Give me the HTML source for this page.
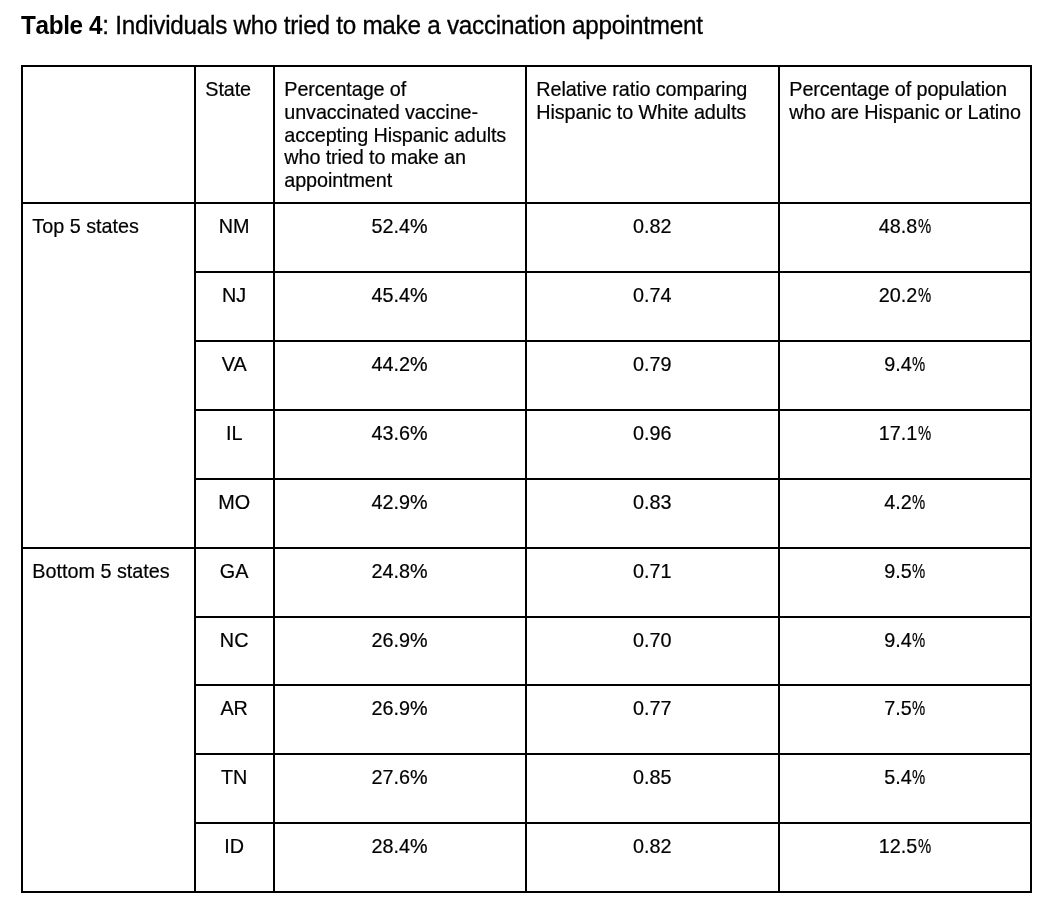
<!DOCTYPE html>
<html lang="en">
<head>
<meta charset="utf-8">
<title>Table 4: Individuals who tried to make a vaccination appointment</title>
<style>
  html, body { margin: 0; padding: 0; background: #ffffff; }
  body { width: 1064px; height: 921px; position: relative; overflow: hidden;
         font-family: "Liberation Sans", Arial, sans-serif; color: #000; will-change: transform; }
  h1 { position: absolute; left: 21px; top: 10px; margin: 0; font-size: 24.3px; font-weight: normal;
       line-height: 32px; white-space: nowrap; transform: scaleY(1.04); transform-origin: 0 24px; }
  h1 b { font-weight: bold; letter-spacing: -0.35px; font-kerning: none; }
  h1 span { letter-spacing: -0.27px; -webkit-text-stroke: 0.3px #000; }
  table { position: absolute; left: 21px; top: 65px; border-collapse: separate; border-spacing: 0;
          table-layout: fixed; width: 1011px; border-left: 2px solid #000; border-top: 2px solid #000; }
  td, th { box-sizing: border-box; border-right: 2px solid #000; border-bottom: 2px solid #000;
           padding: 11px 10px 0 9.3px; vertical-align: top; font-size: 19.8px; line-height: 22.75px;
           font-weight: normal; text-align: left; white-space: nowrap; -webkit-text-stroke: 0.2px #000; }
  .c { text-align: center; }
  .pc { display: inline-block; transform: scaleX(0.75); transform-origin: 0 0; margin-left: 0.2px; margin-right: -4.6px; }
  col.a { width: 173px; } col.b { width: 79px; } col.c3 { width: 252px; } col.d { width: 253px; } col.e { width: 252px; }
  tr.h td { height: 137px; letter-spacing: -0.1px; }
  tr.r td { height: 69px; }
  tr.s td { height: 68px; }
</style>
</head>
<body>
<h1><b>Table 4</b><span>: Individuals who tried to make a vaccination appointment</span></h1>
<table>
  <colgroup><col class="a"><col class="b"><col class="c3"><col class="d"><col class="e"></colgroup>
  <tr class="h">
    <td></td>
    <td>State</td>
    <td>Percentage of<br>unvaccinated vaccine-<br>accepting Hispanic adults<br>who tried to make an<br>appointment</td>
    <td>Relative ratio comparing<br>Hispanic to White adults</td>
    <td>Percentage of population<br>who are Hispanic or Latino</td>
  </tr>
  <tr class="r"><td rowspan="5">Top 5 states</td><td class="c">NM</td><td class="c">52.4%</td><td class="c">0.82</td><td class="c">48.8<span class="pc">%</span></td></tr>
  <tr class="r"><td class="c">NJ</td><td class="c">45.4%</td><td class="c">0.74</td><td class="c">20.2<span class="pc">%</span></td></tr>
  <tr class="r"><td class="c">VA</td><td class="c">44.2%</td><td class="c">0.79</td><td class="c">9.4<span class="pc">%</span></td></tr>
  <tr class="r"><td class="c">IL</td><td class="c">43.6%</td><td class="c">0.96</td><td class="c">17.1<span class="pc">%</span></td></tr>
  <tr class="r"><td class="c">MO</td><td class="c">42.9%</td><td class="c">0.83</td><td class="c">4.2<span class="pc">%</span></td></tr>
  <tr class="r"><td rowspan="5">Bottom 5 states</td><td class="c">GA</td><td class="c">24.8%</td><td class="c">0.71</td><td class="c">9.5<span class="pc">%</span></td></tr>
  <tr class="s"><td class="c">NC</td><td class="c">26.9%</td><td class="c">0.70</td><td class="c">9.4<span class="pc">%</span></td></tr>
  <tr class="r"><td class="c">AR</td><td class="c">26.9%</td><td class="c">0.77</td><td class="c">7.5<span class="pc">%</span></td></tr>
  <tr class="r"><td class="c">TN</td><td class="c">27.6%</td><td class="c">0.85</td><td class="c">5.4<span class="pc">%</span></td></tr>
  <tr class="r"><td class="c">ID</td><td class="c">28.4%</td><td class="c">0.82</td><td class="c">12.5<span class="pc">%</span></td></tr>
</table>
</body>
</html>
